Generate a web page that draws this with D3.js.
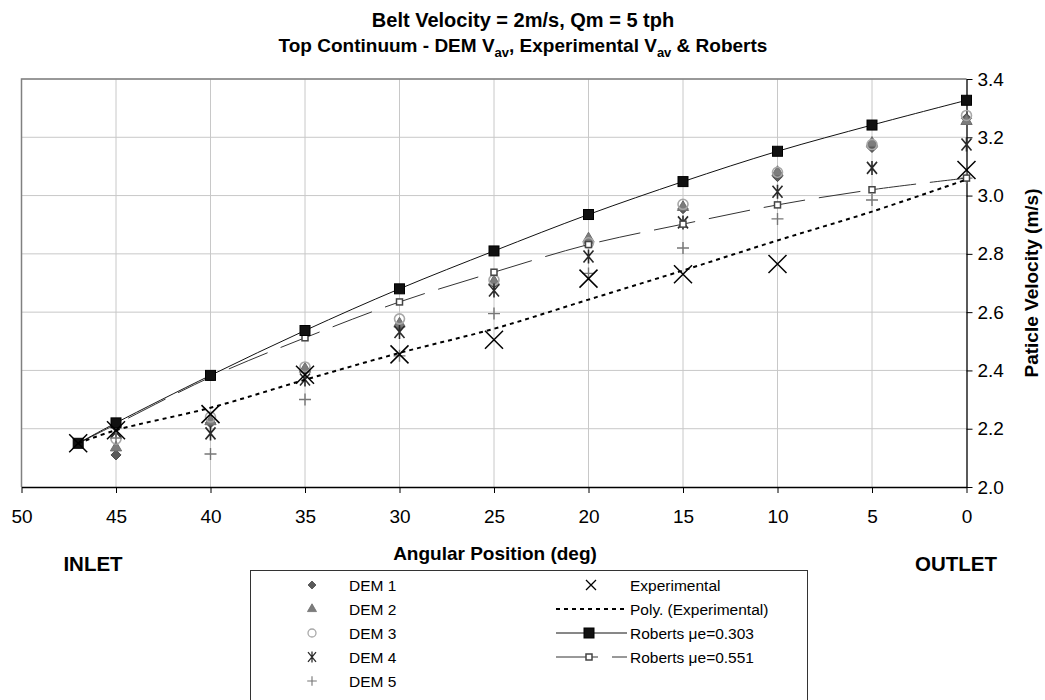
<!DOCTYPE html>
<html>
<head>
<meta charset="utf-8">
<script src="https://cdn.jsdelivr.net/npm/d3@7"></script>
<style>
  body { margin: 0; background: #fff; }
  svg text { font-family: "Liberation Sans", Arial, sans-serif; fill: #000; }
</style>
</head>
<body>
<div id="chart"></div>
<script>
// DEM runs, sampled every 5 deg from 45 to 0
var demAngles = [45, 40, 35, 30, 25, 20, 15, 10, 5, 0];
var dem1 = [2.11, 2.22, 2.40, 2.555, 2.70, 2.84, 2.955, 3.065, 3.165, 3.265];
var dem2 = [2.135, 2.225, 2.405, 2.56, 2.705, 2.852, 2.96, 3.08, 3.18, 3.255];
var dem3 = [2.165, 2.24, 2.412, 2.577, 2.71, 2.838, 2.97, 3.08, 3.175, 3.275];
var dem4 = [2.19, 2.184, 2.369, 2.532, 2.674, 2.791, 2.908, 3.013, 3.095, 3.175];
var dem5 = [2.168, 2.113, 2.30, 2.45, 2.595, 2.733, 2.82, 2.92, 2.985, 3.06];

// experimental points (no reading at 5 deg)
var expAngles = [47, 45, 40, 35, 30, 25, 20, 15, 10, 0];
var expValues = [2.15, 2.195, 2.25, 2.385, 2.455, 2.505, 2.715, 2.73, 2.765, 3.088];

// polynomial trend of experimental
var polyAngles = [47, 45, 40, 35, 30, 25, 20, 15, 10, 5, 0];
var polyValues = [2.15, 2.195, 2.272, 2.368, 2.46, 2.543, 2.643, 2.743, 2.846, 2.945, 3.055];

// Roberts model
var robAngles = [47, 45, 40, 35, 30, 25, 20, 15, 10, 5, 0];
var rob303 = [2.15, 2.22, 2.383, 2.537, 2.68, 2.81, 2.935, 3.048, 3.152, 3.242, 3.327];
var rob551 = [2.15, 2.215, 2.377, 2.512, 2.635, 2.737, 2.832, 2.902, 2.968, 3.02, 3.06];

var xTicks = [50, 45, 40, 35, 30, 25, 20, 15, 10, 5, 0];
var yTicks = [2.0, 2.2, 2.4, 2.6, 2.8, 3.0, 3.2, 3.4];

var margin = {left: 21.5, top: 79}, width = 945, height = 408;

var svg = d3.select("#chart").append("svg")
    .attr("width", 1045)
    .attr("height", 700);

var g = svg.append("g")
    .attr("transform", "translate(" + margin.left + "," + margin.top + ")");

var x = d3.scaleLinear().domain([50, 0]).range([0, width]);
var y = d3.scaleLinear().domain([2.0, 3.4]).range([height, 0]);

// grid
g.append("g").selectAll("line.v")
    .data(xTicks.slice(1, -1))
    .enter().append("line")
    .attr("x1", function(d) { return x(d); })
    .attr("x2", function(d) { return x(d); })
    .attr("y1", 0).attr("y2", height)
    .attr("stroke", "#c8c8c8").attr("stroke-width", 1);
g.append("g").selectAll("line.h")
    .data(yTicks.slice(1))
    .enter().append("line")
    .attr("x1", 0).attr("x2", width)
    .attr("y1", function(d) { return y(d); })
    .attr("y2", function(d) { return y(d); })
    .attr("stroke", "#c8c8c8").attr("stroke-width", 1);

// plot border (left / top)
g.append("path")
    .attr("d", "M0," + height + "V0H" + width)
    .attr("fill", "none").attr("stroke", "#808080").attr("stroke-width", 1.5);

// axes
var xAxis = g.append("g")
    .attr("transform", "translate(0," + height + ")")
    .call(d3.axisBottom(x).tickValues(xTicks).tickSize(6).tickSizeOuter(0).tickFormat(d3.format("d")));
var yAxis = g.append("g")
    .attr("transform", "translate(" + width + ",0)")
    .call(d3.axisRight(y).tickValues(yTicks).tickSize(6).tickSizeOuter(0).tickFormat(d3.format(".1f")));
[xAxis, yAxis].forEach(function(a) {
    a.select(".domain").attr("stroke", "#000").attr("stroke-width", 1.3);
    a.selectAll(".tick line").attr("stroke", "#000");
    a.selectAll(".tick text").style("font-size", "19px").style("font-family", "Liberation Sans, Arial, sans-serif");
});
xAxis.selectAll(".tick text").attr("y", 23);
yAxis.selectAll(".tick text").attr("x", 11);

// marker drawing
function marker(sel, type) {
    if (type == "diamond") {
        sel.append("path").attr("d", "M0,-5L5,0L0,5L-5,0Z")
            .attr("fill", "#5a5a5a").attr("stroke", "#4a4a4a");
    } else if (type == "triangle") {
        sel.append("path").attr("d", d3.symbol(d3.symbolTriangle, 55)())
            .attr("fill", "#7c7c7c").attr("stroke", "#6e6e6e");
    } else if (type == "circle") {
        sel.append("circle").attr("r", 5)
            .attr("fill", "none").attr("stroke", "#a8a8a8").attr("stroke-width", 1.6);
    } else if (type == "asterisk") {
        sel.append("path").attr("d", "M-5,-6L5,6M-5,6L5,-6M0,-7V7")
            .attr("stroke", "#2a2a2a").attr("stroke-width", 1.6).attr("fill", "none");
    } else if (type == "plus") {
        sel.append("path").attr("d", "M-6,0H6M0,-6V6")
            .attr("stroke", "#777").attr("stroke-width", 1.4).attr("fill", "none");
    } else if (type == "bigx") {
        sel.append("path").attr("d", "M-9,-9L9,9M-9,9L9,-9")
            .attr("stroke", "#000").attr("stroke-width", 1.5).attr("fill", "none");
    } else if (type == "smallx") {
        sel.append("path").attr("d", "M-5,-5L5,5M-5,5L5,-5")
            .attr("stroke", "#000").attr("stroke-width", 1.3).attr("fill", "none");
    } else if (type == "bigsq") {
        sel.append("rect").attr("x", -5).attr("y", -5).attr("width", 10).attr("height", 10)
            .attr("fill", "#111").attr("stroke", "#000");
    } else if (type == "smallsq") {
        sel.append("rect").attr("x", -3).attr("y", -3).attr("width", 6).attr("height", 6)
            .attr("fill", "#fff").attr("stroke", "#444").attr("stroke-width", 1.5);
    }
}

function drawPoints(angles, values, type) {
    var pts = angles.map(function(a, i) { return {a: a, v: values[i]}; });
    g.append("g").selectAll("g")
        .data(pts)
        .enter().append("g")
        .attr("transform", function(d) { return "translate(" + x(d.a) + "," + y(d.v) + ")"; })
        .each(function() { marker(d3.select(this), type); });
}

var line = d3.line()
    .x(function(d) { return x(d.a); })
    .y(function(d) { return y(d.v); })
    .curve(d3.curveCatmullRom.alpha(0.5));

function drawLine(angles, values, stroke, widthPx, dash) {
    var pts = angles.map(function(a, i) { return {a: a, v: values[i]}; });
    g.append("path").datum(pts)
        .attr("d", line)
        .attr("fill", "none")
        .attr("stroke", stroke)
        .attr("stroke-width", widthPx)
        .attr("stroke-dasharray", dash);
}

drawPoints(demAngles, dem1, "diamond");
drawPoints(demAngles, dem2, "triangle");
drawPoints(demAngles, dem3, "circle");
drawPoints(demAngles, dem4, "asterisk");
drawPoints(demAngles, dem5, "plus");

drawLine(robAngles, rob551, "#333", 1, "42,14");
drawPoints(robAngles, rob551, "smallsq");
drawLine(robAngles, rob303, "#111", 1, null);
drawPoints(robAngles, rob303, "bigsq");

drawPoints(expAngles, expValues, "bigx");
drawLine(polyAngles, polyValues, "#000", 2, "4,4");

// titles
svg.append("text")
    .attr("x", 523).attr("y", 27)
    .attr("text-anchor", "middle")
    .style("font-size", "20px").style("font-weight", "bold")
    .text("Belt Velocity = 2m/s, Qm = 5 tph");

var t2 = svg.append("text")
    .attr("x", 523).attr("y", 52)
    .attr("text-anchor", "middle")
    .style("font-size", "19px").style("font-weight", "bold");
t2.append("tspan").text("Top Continuum - DEM V");
t2.append("tspan").attr("dy", 5).style("font-size", "13px").text("av");
t2.append("tspan").attr("dy", -5).text(", Experimental V");
t2.append("tspan").attr("dy", 5).style("font-size", "13px").text("av");
t2.append("tspan").attr("dy", -5).text(" & Roberts");

svg.append("text")
    .attr("x", 495).attr("y", 560)
    .attr("text-anchor", "middle")
    .style("font-size", "19px").style("font-weight", "bold")
    .text("Angular Position (deg)");

svg.append("text")
    .attr("transform", "translate(1038," + (margin.top + height / 2) + ") rotate(-90)")
    .attr("text-anchor", "middle")
    .style("font-size", "19px").style("font-weight", "bold")
    .text("Paticle Velocity (m/s)");

svg.append("text")
    .attr("x", 93).attr("y", 571)
    .attr("text-anchor", "middle")
    .style("font-size", "20.5px").style("font-weight", "bold")
    .text("INLET");
svg.append("text")
    .attr("x", 956).attr("y", 571)
    .attr("text-anchor", "middle")
    .style("font-size", "20.5px").style("font-weight", "bold")
    .text("OUTLET");

// legend
var legend = svg.append("g");
legend.append("rect")
    .attr("x", 250.5).attr("y", 570.5)
    .attr("width", 557).attr("height", 140)
    .attr("fill", "#fff").attr("stroke", "#333").attr("stroke-width", 1);

var leftItems = [
    {name: "DEM 1", type: "diamond"},
    {name: "DEM 2", type: "triangle"},
    {name: "DEM 3", type: "circle"},
    {name: "DEM 4", type: "asterisk"},
    {name: "DEM 5", type: "plus"}
];
var rowY = [585, 609, 633, 657, 681];

leftItems.forEach(function(it, i) {
    var m = legend.append("g").attr("transform", "translate(312," + rowY[i] + ") scale(0.8)");
    marker(m, it.type);
    legend.append("text").attr("x", 349).attr("y", rowY[i] + 5.5)
        .style("font-size", "15.5px").text(it.name);
});

// right column
marker(legend.append("g").attr("transform", "translate(591," + rowY[0] + ")"), "smallx");
legend.append("text").attr("x", 630).attr("y", rowY[0] + 5.5).style("font-size", "15.5px").text("Experimental");

legend.append("line").attr("x1", 556).attr("x2", 624)
    .attr("y1", rowY[1]).attr("y2", rowY[1])
    .attr("stroke", "#000").attr("stroke-width", 2).attr("stroke-dasharray", "4,4");
legend.append("text").attr("x", 630).attr("y", rowY[1] + 5.5).style("font-size", "15.5px").text("Poly. (Experimental)");

legend.append("line").attr("x1", 556).attr("x2", 627)
    .attr("y1", rowY[2]).attr("y2", rowY[2])
    .attr("stroke", "#111").attr("stroke-width", 1);
marker(legend.append("g").attr("transform", "translate(589," + rowY[2] + ")"), "bigsq");
legend.append("text").attr("x", 630).attr("y", rowY[2] + 5.5).style("font-size", "15.5px").text("Roberts μe=0.303");

legend.append("line").attr("x1", 556).attr("x2", 627)
    .attr("y1", rowY[3]).attr("y2", rowY[3])
    .attr("stroke", "#333").attr("stroke-width", 1).attr("stroke-dasharray", "42,14");
marker(legend.append("g").attr("transform", "translate(589," + rowY[3] + ")"), "smallsq");
legend.append("text").attr("x", 630).attr("y", rowY[3] + 5.5).style("font-size", "15.5px").text("Roberts μe=0.551");
</script>
</body>
</html>
